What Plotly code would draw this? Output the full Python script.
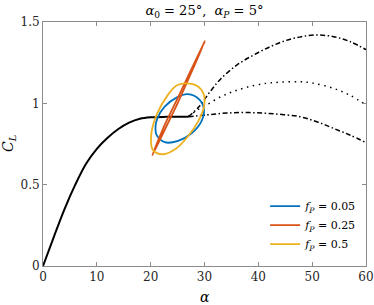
import plotly.graph_objects as go

# static curve
static_alpha = [0, 2, 4, 6, 8, 10, 12, 14, 16, 18, 20, 23, 27]
static_cl = [0, 0.178, 0.35, 0.5, 0.628, 0.72, 0.788, 0.842, 0.881, 0.905, 0.914, 0.917, 0.918]

# post-stall branches
upper_alpha = [27, 29, 31, 33, 36, 39, 42, 45, 48, 51, 54, 57, 60]
upper_cl = [0.918, 0.98, 1.07, 1.15, 1.235, 1.295, 1.345, 1.385, 1.41, 1.42, 1.41, 1.38, 1.33]
mid_alpha = [27, 28.5, 30.4, 33, 35.3, 38, 41.5, 44, 47.7, 50, 53.9, 57, 60]
mid_cl = [0.918, 0.955, 0.99, 1.04, 1.072, 1.10, 1.123, 1.13, 1.133, 1.125, 1.093, 1.05, 0.99]
lower_alpha = [27, 30.4, 34, 38.4, 43, 47.7, 51, 53.9, 57, 60]
lower_cl = [0.918, 0.929, 0.94, 0.943, 0.935, 0.918, 0.885, 0.847, 0.805, 0.759]

# hysteresis loops
blue_alpha = [21.25, 22.6, 24.8, 26.9, 29.1, 29.9, 29.4, 27.6, 25.1, 22.6, 21.1, 20.9, 21.25]
blue_cl = [0.908, 0.98, 1.035, 1.056, 1.021, 0.96, 0.888, 0.816, 0.769, 0.761, 0.806, 0.857, 0.908]
orange_alpha = [20.3, 22.5, 25, 27.5, 30.1, 27.5, 25, 22.5, 20.3]
orange_cl = [0.68, 0.83, 1.0, 1.185, 1.383, 1.205, 1.03, 0.86, 0.68]
yellow_alpha = [26.3, 28.5, 29.9, 29.9, 28.8, 26.9, 24.8, 22.3, 20.4, 20.1, 21.1, 23.2, 24.8, 26.3]
yellow_cl = [1.123, 1.109, 1.052, 0.98, 0.888, 0.796, 0.724, 0.687, 0.714, 0.806, 0.929, 1.052, 1.109, 1.123]

x_ticks = [0, 10, 20, 30, 40, 50, 60]
y_ticks = [0, 0.5, 1, 1.5]
y_tick_labels = ["0", "0.5", "1", "1.5"]

FONT = "DejaVu Serif"

fig = go.Figure()
fig.add_trace(go.Scatter(x=upper_alpha, y=upper_cl, mode="lines", showlegend=False,
                         line=dict(color="black", width=1.5, dash="5px,2.5px,1.5px,2.5px", shape="spline")))
fig.add_trace(go.Scatter(x=mid_alpha, y=mid_cl, mode="lines", showlegend=False,
                         line=dict(color="black", width=1.5, dash="1.5px,4.5px", shape="spline")))
fig.add_trace(go.Scatter(x=lower_alpha, y=lower_cl, mode="lines", showlegend=False,
                         line=dict(color="black", width=1.5, dash="5px,2.5px,1.5px,2.5px", shape="spline")))
fig.add_trace(go.Scatter(x=static_alpha, y=static_cl, mode="lines", showlegend=False,
                         line=dict(color="black", width=2, shape="spline")))
fig.add_trace(go.Scatter(x=blue_alpha, y=blue_cl, mode="lines", name="<i>f<sub>P</sub></i> = 0.05",
                         line=dict(color="#0072BD", width=1.8, shape="spline")))
fig.add_trace(go.Scatter(x=orange_alpha, y=orange_cl, mode="lines", name="<i>f<sub>P</sub></i> = 0.25",
                         line=dict(color="#D95319", width=1.8, shape="spline", smoothing=0.6)))
fig.add_trace(go.Scatter(x=yellow_alpha, y=yellow_cl, mode="lines", name="<i>f<sub>P</sub></i> = 0.5",
                         line=dict(color="#EDB120", width=1.8, shape="spline")))

axis_common = dict(showline=True, linecolor="#8c8c8c", linewidth=1, mirror="ticks",
                   ticks="inside", ticklen=4, tickcolor="#8c8c8c", showgrid=False, zeroline=False,
                   automargin=False,
                   tickfont=dict(family=FONT, size=12, color="#262626"))
fig.update_xaxes(range=[0, 60], tickvals=x_ticks, **axis_common)
fig.update_yaxes(range=[0, 1.5], tickvals=y_ticks, ticktext=y_tick_labels, **axis_common)

fig.update_layout(
    width=374, height=305,
    margin=dict(l=43, r=8, t=22, b=39, autoexpand=False),
    plot_bgcolor="white", paper_bgcolor="white",
    font=dict(family=FONT, color="#262626"),
    title=dict(text="<i>α</i><sub>0</sub> = 25°,  <i>α<sub>P</sub></i> = 5°",
               x=0.5465, xanchor="center", y=0.965, yanchor="middle",
               font=dict(family=FONT, size=13, color="black")),
    legend=dict(x=0.985, y=0.03, xanchor="right", yanchor="bottom",
                bgcolor="white", borderwidth=0, itemwidth=30,
                font=dict(family=FONT, size=11, color="black"),
                tracegroupgap=0),
    annotations=[
        dict(text="<i>α</i>", xref="paper", yref="paper", x=0.5, y=-0.125,
             xanchor="center", yanchor="middle", showarrow=False,
             font=dict(family=FONT, size=14, color="black")),
        dict(text="<i>C<sub>L</sub></i>", xref="paper", yref="paper", x=-0.105, y=0.5,
             xanchor="center", yanchor="middle", showarrow=False, textangle=-90,
             font=dict(family=FONT, size=14, color="black")),
    ],
)

fig.write_html("out.html", config={"displayModeBar": False},
               post_script="document.body.style.margin='0';")
